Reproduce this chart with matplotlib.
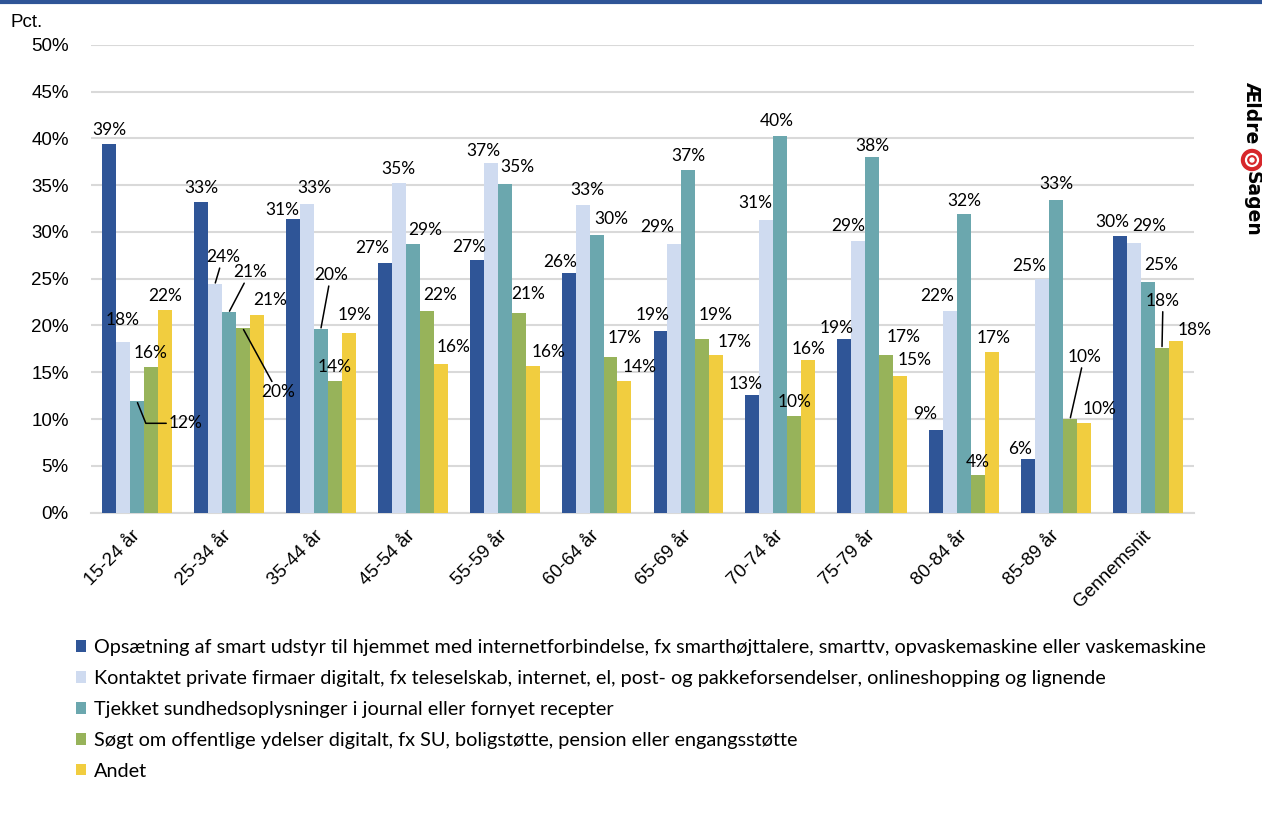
import matplotlib.pyplot as plt
import numpy as np
from matplotlib.patches import Circle
from matplotlib.lines import Line2D

groups = ["15-24 år", "25-34 år", "35-44 år", "45-54 år", "55-59 år", "60-64 år",
          "65-69 år", "70-74 år", "75-79 år", "80-84 år", "85-89 år", "Gennemsnit"]
series_names = [
    "Opsætning af smart udstyr til hjemmet med internetforbindelse, fx smarthøjttalere, smarttv, opvaskemaskine eller vaskemaskine",
    "Kontaktet private firmaer digitalt, fx teleselskab, internet, el, post- og pakkeforsendelser, onlineshopping og lignende",
    "Tjekket sundhedsoplysninger i journal eller fornyet recepter",
    "Søgt om offentlige ydelser digitalt, fx SU, boligstøtte, pension eller engangsstøtte",
    "Andet",
]
smart = [39.4, 33.2, 31.4, 26.7, 27.0, 25.6, 19.4, 12.6, 18.6, 8.8, 5.7, 29.6]
private = [18.2, 24.4, 33.0, 35.2, 37.4, 32.9, 28.7, 31.3, 29.0, 21.6, 25.0, 28.8]
health = [11.9, 21.4, 19.6, 28.7, 35.1, 29.7, 36.6, 40.2, 38.0, 31.9, 33.4, 24.6]
public = [15.6, 19.7, 14.1, 21.6, 21.3, 16.6, 18.6, 10.3, 16.8, 4.0, 10.0, 17.6]
other = [21.7, 21.1, 19.2, 15.9, 15.7, 14.1, 16.9, 16.3, 14.6, 17.2, 9.6, 18.3]
colors = ['#2F5597', '#CFDBF0', '#6BA7AE', '#97B35A', '#F1CD3F']

# label offsets in pixels (dx, dy[, leader]) where Excel moved them
label_pos = {
    (0, 1): (0, 22), (0, 2): (49, -22, True),
    (1, 1): (8, 27, True), (1, 2): (21, 40, True), (1, 3): (35, -64, True), (1, 4): (13, 15),
    (2, 0): (-11, 9), (2, 1): (8, 16), (2, 2): (10, 54, True), (2, 4): (6, 18),
    (3, 0): (-13, 15), (3, 2): (13, 14), (3, 3): (13, 16), (3, 4): (13, 17),
    (4, 0): (-7, 13), (4, 1): (-7, 12), (4, 2): (13, 17), (4, 3): (10, 19), (4, 4): (16, 14),
    (5, 0): (-8, 11), (5, 1): (5, 15), (5, 2): (15, 16), (5, 3): (14, 19), (5, 4): (15, 14),
    (6, 0): (-8, 16), (6, 1): (-17, 17), (6, 3): (13, 24), (6, 4): (18, 13),
    (7, 0): (-7, 11), (7, 1): (-11, 17), (7, 2): (-4, 15), (7, 4): (0, 11),
    (8, 0): (-8, 11), (8, 1): (-10, 15), (8, 2): (0, 11), (8, 3): (17, 18), (8, 4): (14, 16),
    (9, 0): (-11, 16), (9, 1): (-13, 15), (9, 2): (0, 13), (9, 3): (0, 13), (9, 4): (1, 14),
    (10, 0): (-8, 10), (10, 1): (-13, 13), (10, 2): (0, 16), (10, 3): (14, 62, True), (10, 4): (16, 14),
    (11, 0): (-8, 14), (11, 1): (15, 17), (11, 2): (13, 17), (11, 3): (1, 47, True), (11, 4): (19, 11),
}

lab_font = 'Lato'
tick_font = 'Liberation Sans'

fig = plt.figure(figsize=(12.62, 8.13), dpi=100)
ax = fig.add_axes([0.0721, 0.3694, 0.8740, 0.5756])

x = np.arange(len(groups))
w = 0.152
data = [smart, private, health, public, other]
for i, (vals, c, name) in enumerate(zip(data, colors, series_names)):
    pos = x + (i - 2) * w
    ax.bar(pos, vals, width=w, color=c, label=name, zorder=3, linewidth=0)
    for g, v in enumerate(vals):
        p = label_pos.get((g, i), (0, 14))
        kw = {}
        if len(p) > 2:
            cs = 'angle,angleA=0,angleB=112,rad=0' if (g, i) == (0, 2) else 'arc3'
            kw['arrowprops'] = dict(arrowstyle='-', color='black', lw=1.1,
                                    shrinkA=0, shrinkB=1, connectionstyle=cs)
        ax.annotate(f"{round(v)}%", xy=(pos[g], v), xytext=(p[0], p[1]),
                    textcoords='offset pixels', ha='center', va='center',
                    fontsize=12.5, family=lab_font, zorder=5, **kw)

ax.set_xlim(-0.5, len(groups) - 0.5)
ax.set_ylim(0, 50)
ax.set_yticks(np.arange(0, 51, 5))
ax.set_yticklabels([f"{t}%" for t in range(0, 51, 5)], fontsize=13.5, family=tick_font)
ax.set_xticks(x)
ax.set_xticklabels(groups, rotation=45, ha='right', va='center', rotation_mode='anchor',
                   fontsize=13.5, family=tick_font)
ax.tick_params(axis='both', length=0)
ax.tick_params(axis='y', pad=16)
ax.tick_params(axis='x', pad=15)
ax.grid(axis='y', color='#D9D9D9', lw=1.5, zorder=0)
for s in ['left', 'right', 'top']:
    ax.spines[s].set_visible(False)
ax.spines['bottom'].set_color('#D9D9D9')
ax.spines['bottom'].set_linewidth(1.5)

fig.text(0.008, 0.972, "Pct.", fontsize=13.5, family=tick_font, va='center')

leg = fig.legend(loc='upper left', bbox_to_anchor=(0.046, 0.236), frameon=False,
                 handlelength=0.5, handleheight=0.5, handletextpad=0.4,
                 labelspacing=0.7, prop={'family': lab_font, 'size': 14.35})

# top rule
fig.add_artist(Line2D([0, 1], [0.998, 0.998], transform=fig.transFigure,
                      color='#2F5597', lw=3))

# logo
fig.text(1252 / 1262, 1 - 112 / 813, "Ældre", rotation=-90, fontsize=13.5,
         fontweight='bold', family='DejaVu Sans', ha='center', va='center')
fig.text(1252 / 1262, 1 - 204 / 813, "Sagen", rotation=-90, fontsize=13.5,
         fontweight='bold', family='DejaVu Sans', ha='center', va='center')
cx, cy = 12.52, (813 - 160) / 100
fig.add_artist(Circle((cx, cy), 0.105, transform=fig.dpi_scale_trans, color='#D7262B'))
fig.add_artist(Circle((cx, cy), 0.06, transform=fig.dpi_scale_trans, fill=False,
                      edgecolor='white', lw=1.6))
fig.add_artist(Circle((cx, cy), 0.02, transform=fig.dpi_scale_trans, color='white'))

fig.savefig("out.png", dpi=100)
